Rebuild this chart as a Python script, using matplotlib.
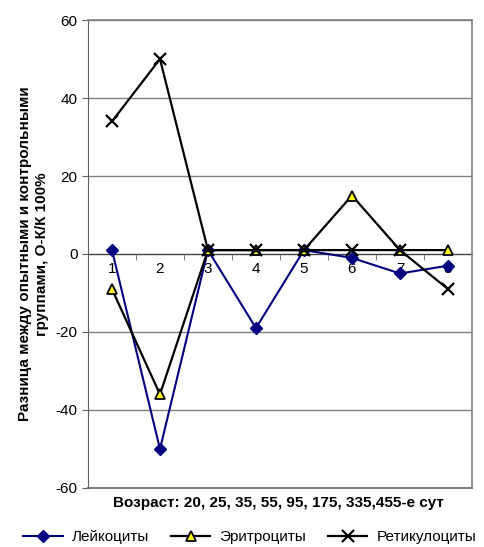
import numpy as np
import matplotlib.pyplot as plt

plt.rcParams['font.family'] = ['Liberation Sans', 'DejaVu Sans']
plt.rcParams['axes.unicode_minus'] = False

# Data
groups = ['1', '2', '3', '4', '5', '6', '7', '8']
leuko = [1, -50, 1, -19, 1, -1, -5, -3]
erythro = [-9, -36, 1, 1, 1, 15, 1, 1]
retic = [34, 50, 1, 1, 1, 1, 1, -9]
y_ticks = [-60, -40, -20, 0, 20, 40, 60]

fig = plt.figure(figsize=(4.85, 5.47), dpi=100)
ax = fig.add_axes([0.1814, 0.1079, 0.7917, 0.8555])

x = np.arange(1, len(groups) + 1)

ax.plot(x, leuko, color='#000080', lw=1.5, marker='D', ms=6,
        mfc='#000080', mec='#000080', label='Лейкоциты', zorder=3)
ax.plot(x, erythro, color='black', lw=1.6, marker='^', ms=7,
        mfc='yellow', mec='black', mew=1.3, label='Эритроциты', zorder=4)
ax.plot(x, retic, color='black', lw=1.6, marker='x', ms=9, mew=1.6,
        label='Ретикулоциты', zorder=5)

ax.set_xlim(0.5, len(groups) + 0.5)
ax.set_ylim(-60, 60)
ax.set_yticks(y_ticks)
ax.yaxis.grid(True, color='#808080', lw=1)
ax.set_axisbelow(True)

# x axis at zero with ticks between categories
ax.spines['bottom'].set_position(('data', 0))
ax.spines['bottom'].set_color('#404040')
ax.spines['bottom'].set_zorder(2)
ax.set_xticks(np.arange(1.5, len(groups), 1.0))
ax.set_xticklabels([])
ax.set_xticks(x, minor=True)
ax.set_xticklabels(groups, minor=True)
ax.tick_params(axis='x', which='major', direction='out', length=4, color='#808080')
ax.tick_params(axis='x', which='minor', length=0, labelsize=11, pad=6)
ax.tick_params(axis='y', direction='out', length=4, labelsize=11, color='#606060')

for side in ['top', 'right']:
    ax.spines[side].set_color('#808080')
    ax.spines[side].set_linewidth(1.2)
ax.spines['left'].set_color('#606060')

# frame bottom edge
ax.axhline(-60, color='#808080', lw=1.5, clip_on=False)

ax.set_ylabel('Разница между опытными и контрольными\nгруппами, О-К/К 100%',
              fontsize=11, fontweight='bold', labelpad=5)
fig.text(0.573, 0.08, 'Возраст: 20, 25, 35, 55, 95, 175, 335,455-е сут',
         fontsize=11, fontweight='bold', ha='center', va='center')

fig.legend(loc='center', bbox_to_anchor=(0.515, 0.018), ncol=3, frameon=False,
           fontsize=11, handlelength=2.6, columnspacing=1.4, handletextpad=0.6)

fig.savefig('out.png', dpi=100)
